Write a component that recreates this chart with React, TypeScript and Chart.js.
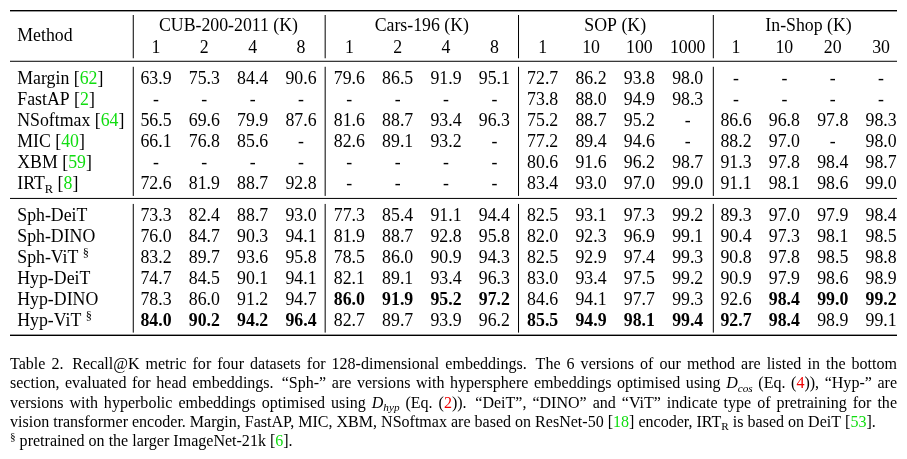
import React, { useEffect, useRef } from "react";
import { Chart, registerables } from "chart.js";

Chart.register(...registerables);

// ---------- data ----------
const datasetNames = ["CUB-200-2011 (K)", "Cars-196 (K)", "SOP (K)", "In-Shop (K)"];
const kLabels = ["1", "2", "4", "8", "1", "2", "4", "8", "1", "10", "100", "1000", "1", "10", "20", "30"];

const methodNames = ["Margin", "FastAP", "NSoftmax", "MIC", "XBM", "IRT", "Sph-DeiT", "Sph-DINO", "Sph-ViT", "Hyp-DeiT", "Hyp-DINO", "Hyp-ViT"];
const methodSubs = ["", "", "", "", "", "R", "", "", "", "", "", ""];
const methodCites = ["62", "2", "64", "40", "59", "8", "", "", "", "", "", ""];
const methodMarks = ["", "", "", "", "", "", "", "", "§", "", "", "§"];

const margin = [63.9, 75.3, 84.4, 90.6, 79.6, 86.5, 91.9, 95.1, 72.7, 86.2, 93.8, 98.0, null, null, null, null];
const fastAP = [null, null, null, null, null, null, null, null, 73.8, 88.0, 94.9, 98.3, null, null, null, null];
const nSoftmax = [56.5, 69.6, 79.9, 87.6, 81.6, 88.7, 93.4, 96.3, 75.2, 88.7, 95.2, null, 86.6, 96.8, 97.8, 98.3];
const mic = [66.1, 76.8, 85.6, null, 82.6, 89.1, 93.2, null, 77.2, 89.4, 94.6, null, 88.2, 97.0, null, 98.0];
const xbm = [null, null, null, null, null, null, null, null, 80.6, 91.6, 96.2, 98.7, 91.3, 97.8, 98.4, 98.7];
const irtR = [72.6, 81.9, 88.7, 92.8, null, null, null, null, 83.4, 93.0, 97.0, 99.0, 91.1, 98.1, 98.6, 99.0];
const sphDeiT = [73.3, 82.4, 88.7, 93.0, 77.3, 85.4, 91.1, 94.4, 82.5, 93.1, 97.3, 99.2, 89.3, 97.0, 97.9, 98.4];
const sphDINO = [76.0, 84.7, 90.3, 94.1, 81.9, 88.7, 92.8, 95.8, 82.0, 92.3, 96.9, 99.1, 90.4, 97.3, 98.1, 98.5];
const sphViT = [83.2, 89.7, 93.6, 95.8, 78.5, 86.0, 90.9, 94.3, 82.5, 92.9, 97.4, 99.3, 90.8, 97.8, 98.5, 98.8];
const hypDeiT = [74.7, 84.5, 90.1, 94.1, 82.1, 89.1, 93.4, 96.3, 83.0, 93.4, 97.5, 99.2, 90.9, 97.9, 98.6, 98.9];
const hypDINO = [78.3, 86.0, 91.2, 94.7, 86.0, 91.9, 95.2, 97.2, 84.6, 94.1, 97.7, 99.3, 92.6, 98.4, 99.0, 99.2];
const hypViT = [84.0, 90.2, 94.2, 96.4, 82.7, 89.7, 93.9, 96.2, 85.5, 94.9, 98.1, 99.4, 92.7, 98.4, 98.9, 99.1];

const recallRows: (number | null)[][] = [margin, fastAP, nSoftmax, mic, xbm, irtR, sphDeiT, sphDINO, sphViT, hypDeiT, hypDINO, hypViT];

type Run = { t: string; c?: string; i?: boolean; sub?: boolean; sup?: boolean };
const RED = "#f00000";
const GREEN = "#10dd10";

const captionLine1: Run[] = [{ t: "Table 2.  Recall@K metric for four datasets for 128-dimensional embeddings.  The 6 versions of our method are listed in the bottom" }];
const captionLine2: Run[] = [
  { t: "section, evaluated for head embeddings.  “Sph-” are versions with hypersphere embeddings optimised using " },
  { t: "D", i: true },
  { t: "cos", i: true, sub: true },
  { t: " (Eq. (" },
  { t: "4", c: RED },
  { t: ")), “Hyp-” are" },
];
const captionLine3: Run[] = [
  { t: "versions with hyperbolic embeddings optimised using " },
  { t: "D", i: true },
  { t: "hyp", i: true, sub: true },
  { t: " (Eq. (" },
  { t: "2", c: RED },
  { t: ")).  “DeiT”, “DINO” and “ViT” indicate type of pretraining for the" },
];
const captionLine4: Run[] = [
  { t: "vision transformer encoder. Margin, FastAP, MIC, XBM, NSoftmax are based on ResNet-50 [" },
  { t: "18", c: GREEN },
  { t: "] encoder, IRT" },
  { t: "R", sub: true },
  { t: " is based on DeiT [" },
  { t: "53", c: GREEN },
  { t: "]." },
];
const footnoteLine: Run[] = [{ t: "§", sup: true }, { t: " pretrained on the larger ImageNet-21k [" }, { t: "6", c: GREEN }, { t: "]." }];

// ---------- layout helpers ----------
const SECOND_BLOCK_START = 6;
const rowPos = (r: number) => r + (r >= SECOND_BLOCK_START ? 0.5 : 0);
const FAMILY = '"Liberation Serif", "Times New Roman", serif';
const fontStr = (size: number, bold = false, italic = false) =>
  `${italic ? "italic " : ""}${bold ? "bold " : ""}${size}px ${FAMILY}`;

const colMax = kLabels.map((_, c) => {
  let m = -Infinity;
  recallRows.forEach((row) => {
    const v = row[c];
    if (v != null && v > m) m = v;
  });
  return m;
});

function drawRuns(ctx: CanvasRenderingContext2D, runs: Run[], x0: number, y: number, size: number, targetW: number | null) {
  type Piece = { space: number } | { text: string; r: Run };
  const pieces: Piece[] = [];
  runs.forEach((r) => {
    r.t.split(/( +)/).forEach((p) => {
      if (p === "") return;
      if (/^ +$/.test(p)) pieces.push({ space: p.length > 1 ? 1.45 : 1 });
      else pieces.push({ text: p, r });
    });
  });
  const styleOf = (r: Run) => {
    const s = r.sub || r.sup ? size * 0.7 : size;
    return { font: fontStr(s, false, !!r.i), dy: r.sub ? size * 0.2 : r.sup ? -size * 0.36 : 0 };
  };
  ctx.font = fontStr(size);
  const spaceW = ctx.measureText(" ").width;
  let natural = 0;
  let weights = 0;
  const widths: number[] = [];
  pieces.forEach((p) => {
    if ("space" in p) {
      natural += spaceW * p.space;
      weights += p.space;
      widths.push(0);
    } else {
      const st = styleOf(p.r);
      ctx.font = st.font;
      const w = ctx.measureText(p.text).width;
      widths.push(w);
      natural += w;
    }
  });
  const extra = targetW != null && weights > 0 ? (targetW - natural) / weights : 0;
  let x = x0;
  pieces.forEach((p, k) => {
    if ("space" in p) {
      x += (spaceW + extra) * p.space;
    } else {
      const st = styleOf(p.r);
      ctx.font = st.font;
      ctx.fillStyle = p.r.c || "#000";
      ctx.fillText(p.text, x, y + st.dy);
      x += widths[k];
    }
  });
}

const tablePlugin = {
  id: "tableText",
  afterDatasetsDraw(chart: any) {
    const ctx: CanvasRenderingContext2D = chart.ctx;
    const xs = chart.scales.x;
    const ys = chart.scales.y;
    const area = chart.chartArea;
    const F = 17.8;
    const base = 6.3;
    ctx.save();
    ctx.fillStyle = "#000";
    ctx.textBaseline = "alphabetic";

    // horizontal rules
    const hRule = (y: number, t: number) => ctx.fillRect(area.left, y - t / 2, area.right - area.left, t);
    const headerRule = ys.getPixelForValue(-0.77);
    const midRule = ys.getPixelForValue(5.73);
    hRule(area.top + 0.7, 1.4);
    hRule(headerRule, 1.0);
    hRule(midRule, 1.0);
    hRule(area.bottom - 0.7, 1.4);

    // vertical separators
    const segs = [
      [area.top + 5, headerRule - 3],
      [headerRule + 5.5, midRule - 2.5],
      [midRule + 5.5, area.bottom - 3.4],
    ];
    [-0.47, 3.5, 7.5, 11.53].forEach((v) => {
      const x = xs.getPixelForValue(v);
      segs.forEach(([a, b]) => ctx.fillRect(x - 0.5, a, 1, b - a));
    });

    // header
    ctx.font = fontStr(F);
    ctx.textAlign = "left";
    const nameX = xs.getPixelForValue(-2.87);
    ctx.fillText("Method", nameX, ys.getPixelForValue(-2.04) + base);
    ctx.textAlign = "center";
    datasetNames.forEach((n, g) => {
      ctx.fillText(n, xs.getPixelForValue(g * 4 + 1.5), ys.getPixelForValue(-2.5) + base);
    });
    kLabels.forEach((k, c) => {
      ctx.fillText(k, xs.getPixelForValue(c), ys.getPixelForValue(-1.46) + base);
    });

    // method names
    ctx.textAlign = "left";
    methodNames.forEach((n, r) => {
      const y = ys.getPixelForValue(rowPos(r)) + base;
      const runs: Run[] = [{ t: n }];
      if (methodSubs[r]) runs.push({ t: methodSubs[r], sub: true });
      if (methodCites[r]) runs.push({ t: " [" }, { t: methodCites[r], c: GREEN }, { t: "]" });
      if (methodMarks[r]) runs.push({ t: " " }, { t: methodMarks[r], sup: true });
      drawRuns(ctx, runs, nameX, y, F, null);
    });

    // cells
    ctx.textAlign = "center";
    ctx.fillStyle = "#000";
    chart.data.datasets.forEach((_: any, di: number) => {
      const meta = chart.getDatasetMeta(di);
      meta.data.forEach((el: any, j: number) => {
        const v = recallRows[di][j];
        const txt = v == null ? "-" : v.toFixed(1);
        const bold = v != null && v === colMax[j];
        ctx.font = fontStr(F, bold);
        ctx.fillText(txt, el.x, el.y + base);
      });
    });

    // caption
    ctx.textAlign = "left";
    const CF = 16.05;
    const capLeft = area.left;
    const capW = area.right - area.left;
    const capTop = area.bottom + 33.3;
    const lh = 19.15;
    drawRuns(ctx, captionLine1, capLeft, capTop, CF, capW);
    drawRuns(ctx, captionLine2, capLeft, capTop + lh, CF, capW);
    drawRuns(ctx, captionLine3, capLeft, capTop + 2 * lh, CF, capW);
    drawRuns(ctx, captionLine4, capLeft, capTop + 3 * lh, CF, null);
    drawRuns(ctx, footnoteLine, capLeft, capTop + 4 * lh + 0.3, CF, null);

    ctx.restore();
  },
};

export default function App() {
  const ref = useRef<HTMLCanvasElement | null>(null);
  useEffect(() => {
    if (!ref.current) return;
    const chart = new Chart(ref.current, {
      type: "scatter",
      data: {
        datasets: recallRows.map((row, r) => ({
          label: methodNames[r],
          data: row.map((_, c) => ({ x: c, y: rowPos(r) })),
          pointRadius: 0,
          pointHoverRadius: 0,
          showLine: false,
        })),
      },
      options: {
        responsive: false,
        animation: false,
        events: [],
        layout: { padding: { left: 2, right: 2, top: 2, bottom: 115 } },
        scales: {
          x: { type: "linear", display: false, min: -3.02, max: 15.33 },
          y: { type: "linear", display: false, reverse: true, min: -3.2, max: 12.25 },
        },
        plugins: { legend: { display: false }, tooltip: { enabled: false } },
      },
      plugins: [tablePlugin],
    });
    return () => chart.destroy();
  }, []);
  return (
    <div style={{ width: 891, height: 443 }}>
      <canvas ref={ref} width={891} height={443} style={{ display: "block" }} />
    </div>
  );
}
